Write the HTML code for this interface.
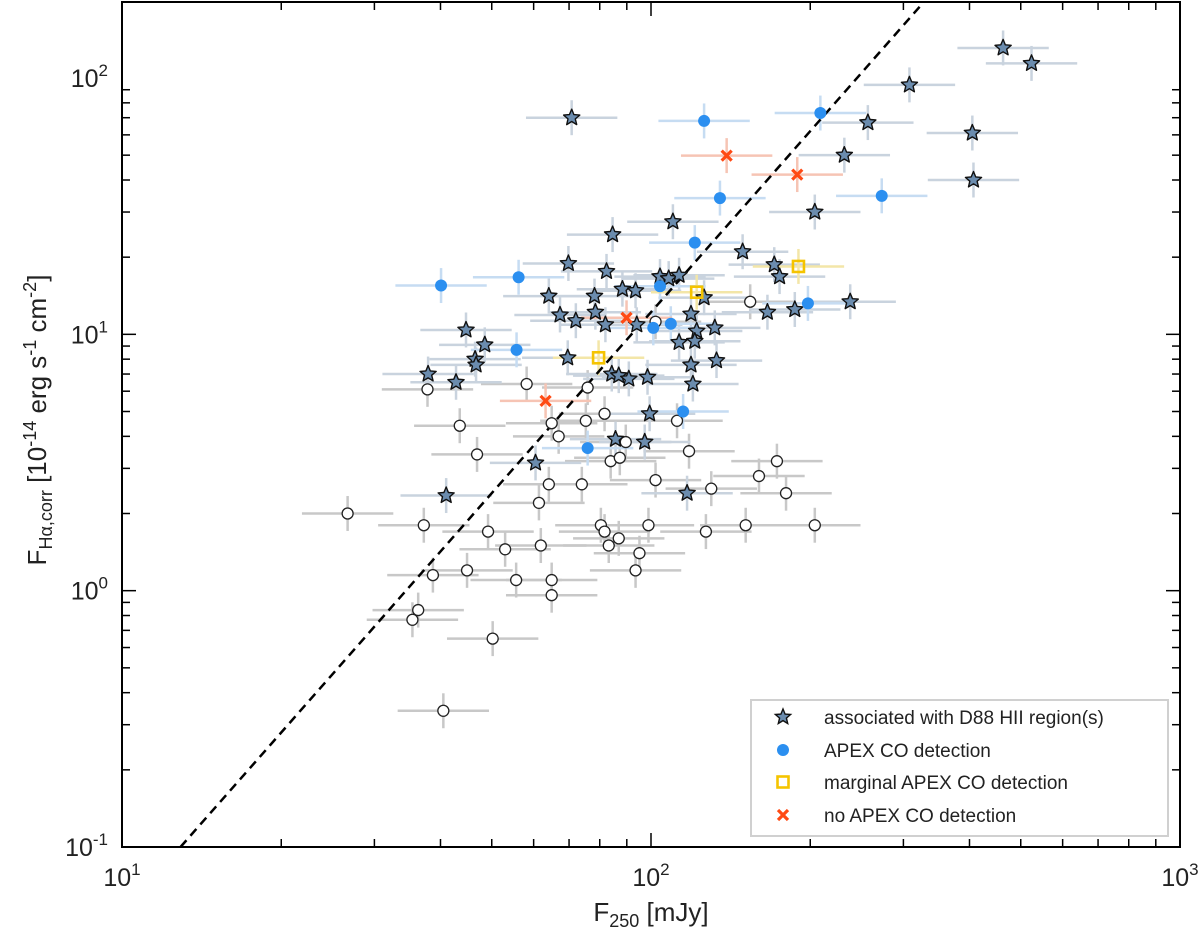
<!DOCTYPE html>
<html><head><meta charset="utf-8"><style>
html,body{margin:0;padding:0;background:#fff;}
svg{display:block;font-family:"Liberation Sans",Arial,sans-serif;}
</style></head><body>
<svg id="chart" width="1200" height="936" viewBox="0 0 1200 936" xmlns="http://www.w3.org/2000/svg">
<g id="errs"></g><g id="fit"></g><g id="marks"></g><g id="axes"></g><g id="legend"></g>
</svg>
<script>
// ---- data ----
const starX=[70.8,463,524,308,405,407,257,232,204,238,149,110,84.6,171,175,166,187,69.8,82.4,64.1,78.2,88.3,93.5,104,108,113,126,78.5,67.3,72.1,82,94,119,122,121,113,132,133,119,120,44.7,48.5,46.5,46.7,37.9,42.8,69.6,84.3,86.9,90.8,98.5,85.7,97.3,99.4,60.5,41,117];
const starY=[70,131,114,94,61,40,67,50,30,13.4,21,27.5,24.5,18.7,16.8,12.2,12.5,18.9,17.6,14.1,14.1,15.0,14.8,16.8,16.5,17.0,13.9,12.2,11.9,11.3,10.9,10.9,12.0,10.3,9.4,9.3,10.6,7.9,7.6,6.4,10.4,9.1,8.0,7.6,7.0,6.5,8.1,7.0,6.9,6.7,6.8,3.9,3.8,4.9,3.15,2.35,2.4];
const blueX=[40.1,56.2,55.7,126,135,121,209,273,198,104,109,101,115,75.9];
const blueY=[15.5,16.7,8.7,68,34,22.8,73,34.7,13.2,15.4,11.0,10.6,5.0,3.6];
const yelX=[190,122,79.6];
const yelY=[18.4,14.6,8.1];
const redX=[139,189,89.9,63.2];
const redY=[49.8,42,11.6,5.5];
const openX=[102,154,58.2,75.9,37.8,43.5,64.9,75.3,81.7,66.9,46.9,83.9,87.3,89.6,112,118,102,64.1,74,61.4,173,160,130,180,26.7,37.2,49.2,53,80.4,81.7,61.9,98.9,83.2,86.9,127,151,204,95.1,93.5,44.9,38.7,55.6,64.9,64.9,36.3,35.4,50.2,40.5];
const openY=[11.2,13.4,6.4,6.2,6.1,4.4,4.5,4.6,4.9,4.0,3.4,3.2,3.3,3.8,4.6,3.5,2.7,2.6,2.6,2.2,3.2,2.8,2.5,2.4,2.0,1.8,1.7,1.45,1.8,1.7,1.5,1.8,1.5,1.6,1.7,1.8,1.8,1.4,1.2,1.2,1.15,1.1,1.1,0.96,0.84,0.77,0.65,0.34];
const fitX=[12.9,328];
const fitY=[0.1,198];
const xTicks=[10,100,1000];const xTickExp=["1","2","3"];
const yTicks=[0.1,1,10,100];const yTickExp=["-1","0","1","2"];

// ---- axes ----
const L=122,R=1180,T=2,B=847;
const X=v=>L+(Math.log10(v)-1)*(R-L)/2;
const Y=v=>B-(Math.log10(v)+1)*((B-78)/3);
const NS="http://www.w3.org/2000/svg";
function mk(tag,attrs,parent){const e=document.createElementNS(NS,tag);for(const k in attrs)e.setAttribute(k,attrs[k]);parent.appendChild(e);return e;}
const errs=document.getElementById('errs'),marks=document.getElementById('marks'),axes=document.getElementById('axes'),fit=document.getElementById('fit'),leg=document.getElementById('legend');

function errbar(x,y,col){
  const l=mk('line',{x1:X(x/1.22),x2:X(x*1.22),y1:Y(y),y2:Y(y),stroke:col,'stroke-width':2.5},errs);
  
  const v=mk('line',{x1:X(x),x2:X(x),y1:Y(y/1.17),y2:Y(y*1.17),stroke:col,'stroke-width':2.5},errs);
  
}
function starPath(cx,cy,r){let p='';for(let i=0;i<10;i++){const a=-Math.PI/2+i*Math.PI/5;const rr=i%2?r*0.45:r;p+=(i?'L':'M')+(cx+rr*Math.cos(a)).toFixed(1)+','+(cy+rr*Math.sin(a)).toFixed(1);}return p+'Z';}

openX.forEach((x,i)=>errbar(x,openY[i],'#c8c8c8'));
starX.forEach((x,i)=>errbar(x,starY[i],'#c9d3de'));
blueX.forEach((x,i)=>errbar(x,blueY[i],'#c6dcf2'));
yelX.forEach((x,i)=>errbar(x,yelY[i],'#f3e6a8'));
redX.forEach((x,i)=>errbar(x,redY[i],'#f6c4b4'));

const fl=mk('line',{x1:X(fitX[0]),y1:Y(fitY[0]),x2:X(fitX[1]),y2:Y(fitY[1]),stroke:'#000','stroke-width':2.5,'stroke-dasharray':'9,6'},fit);


openX.forEach((x,i)=>{const c=mk('circle',{cx:X(x),cy:Y(openY[i]),r:5.5,fill:'#fff',stroke:'#222','stroke-width':1.3},marks);
});
starX.forEach((x,i)=>{const s=mk('path',{d:starPath(X(x),Y(starY[i]),8.5),fill:'#6b8cae',stroke:'#111','stroke-width':1.4,'stroke-linejoin':'round'},marks);
});
blueX.forEach((x,i)=>{const c=mk('circle',{cx:X(x),cy:Y(blueY[i]),r:6,fill:'#2b8ff0'},marks);
});
yelX.forEach((x,i)=>{const r=mk('rect',{x:X(x)-5.5,y:Y(yelY[i])-5.5,width:11,height:11,fill:'none',stroke:'#f5c400','stroke-width':2.6},marks);
});
redX.forEach((x,i)=>{const cx=X(x),cy=Y(redY[i]);const p=mk('path',{d:`M${cx-5},${cy-5}L${cx+5},${cy+5}M${cx+5},${cy-5}L${cx-5},${cy+5}`,stroke:'#ff4a14','stroke-width':3.2},marks);
});

const fr=mk('rect',{x:L,y:T,width:R-L,height:B-T,fill:'none',stroke:'#000','stroke-width':2},axes);

for(let d=0;d<2;d++)for(let m=1;m<10;m++){const v=Math.pow(10,1+d)*m;const px=X(v);const len=m==1?14:8;
 mk('line',{x1:px,x2:px,y1:B,y2:B-len,stroke:'#000','stroke-width':1.5},axes);mk('line',{x1:px,x2:px,y1:T,y2:T+len,stroke:'#000','stroke-width':1.5},axes);}
for(let d=0;d<3;d++)for(let m=1;m<10;m++){const v=Math.pow(10,-1+d)*m;const py=Y(v);if(py<T)continue;const len=m==1?14:8;
 mk('line',{x1:L,x2:L+len,y1:py,y2:py,stroke:'#000','stroke-width':1.5},axes);mk('line',{x1:R,x2:R-len,y1:py,y2:py,stroke:'#000','stroke-width':1.5},axes);}
xTicks.forEach((v,i)=>{const t=mk('text',{x:X(v),y:886,'font-size':25,'text-anchor':'middle',fill:'#222'},axes);
 t.innerHTML='10<tspan dy="-11" font-size="17">'+xTickExp[i]+'</tspan>';
 });
yTicks.forEach((v,i)=>{const t=mk('text',{x:108,y:Y(v)+9,'font-size':25,'text-anchor':'end',fill:'#222'},axes);
 t.innerHTML='10<tspan dy="-11" font-size="17">'+yTickExp[i]+'</tspan>';
 });
const xt=mk('text',{x:651,y:921,'font-size':26,'text-anchor':'middle',fill:'#222'},axes);
xt.innerHTML='F<tspan dy="6" font-size="18">250</tspan><tspan dy="-6"> [mJy]</tspan>';

const yt=mk('text',{x:0,y:0,'font-size':26,'text-anchor':'middle',fill:'#222',transform:'translate(46,420) rotate(-90)'},axes);
yt.innerHTML='F<tspan dy="6" font-size="18">Hα,corr</tspan><tspan dy="-6"> [10</tspan><tspan dy="-10" font-size="18">-14</tspan><tspan dy="10"> erg s</tspan><tspan dy="-10" font-size="18">-1</tspan><tspan dy="10"> cm</tspan><tspan dy="-10" font-size="18">-2</tspan><tspan dy="10">]</tspan>';


const lb=mk('rect',{x:751,y:700,width:417,height:136,fill:'#fff',stroke:'#d0d0d0','stroke-width':2},leg);

const labels=['associated with D88 HII region(s)','APEX CO detection','marginal APEX CO detection','no APEX CO detection'];
const ly=[717,750,782,815];
labels.forEach((s,i)=>{const t=mk('text',{x:824,y:ly[i]+7,'font-size':19,fill:'#222'},leg);t.textContent=s;
 });
mk('path',{d:starPath(783,ly[0],8),fill:'#6b8cae',stroke:'#111','stroke-width':1.4},leg);
mk('circle',{cx:783,cy:ly[1],r:6,fill:'#2b8ff0'},leg);
mk('rect',{x:777.5,y:ly[2]-5.5,width:11,height:11,fill:'none',stroke:'#f5c400','stroke-width':2.6},leg);
mk('path',{d:`M778,${ly[3]-5}L788,${ly[3]+5}M788,${ly[3]-5}L778,${ly[3]+5}`,stroke:'#ff4a14','stroke-width':3.2},leg);
</script>
</body></html>
